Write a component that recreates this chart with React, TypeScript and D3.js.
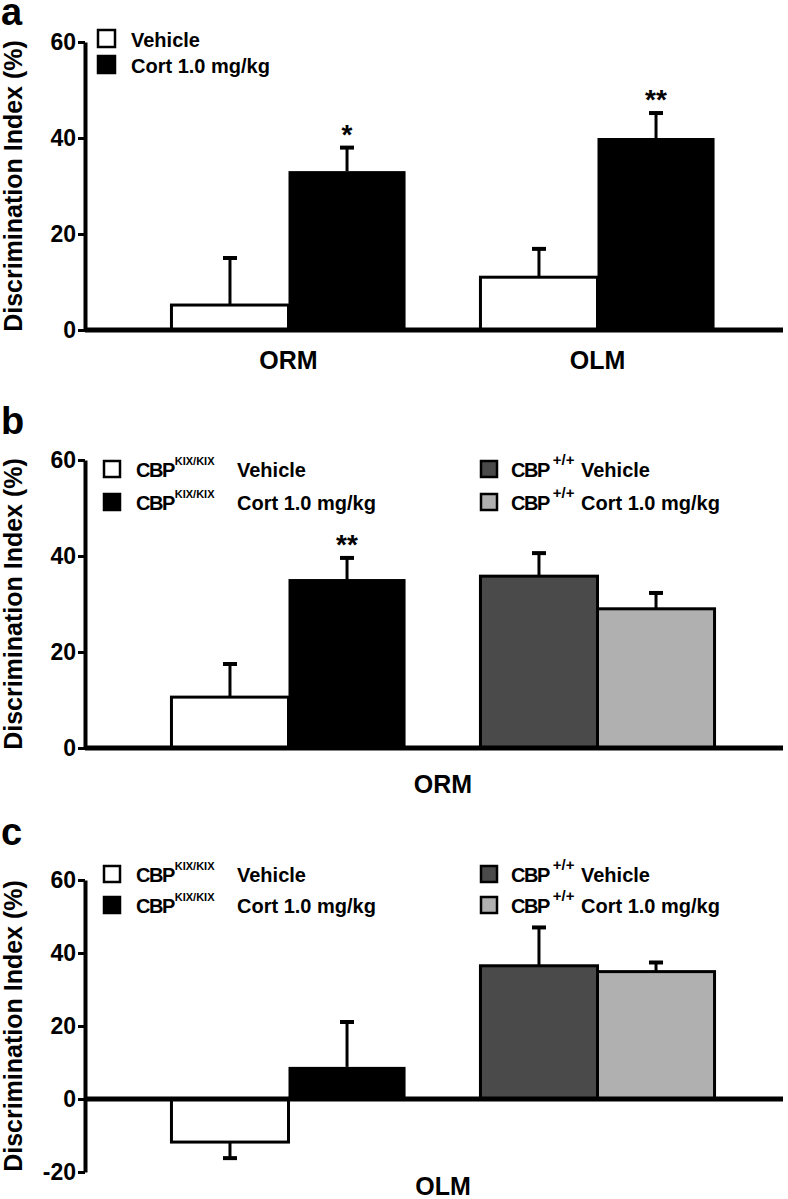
import React, { useRef, useEffect } from "react";
import * as d3 from "d3";

const FONT = "'Liberation Sans', Arial, Helvetica, sans-serif";

// panel a: ORM / OLM, vehicle vs cort
const aCategories = ["ORM", "OLM"];
const aSeries = ["Vehicle", "Cort 1.0 mg/kg"];
const aMeans = [
  [5.2, 33.1],
  [11.0, 40.0],
];
const aSems = [
  [9.8, 4.9],
  [5.9, 5.2],
];
const aStars = [
  ["", "*"],
  ["", "**"],
];

// panels b and c: genotype x treatment
const genotypes = ["KIX/KIX", "+/+"];
const treatments = ["Vehicle", "Cort 1.0 mg/kg"];

const bMeans = [
  [10.6, 35.2],
  [35.8, 29.0],
];
const bSems = [
  [6.9, 4.4],
  [4.8, 3.3],
];
const bStars = [
  ["", "**"],
  ["", ""],
];

const cMeans = [
  [-11.8, 8.8],
  [36.5, 34.9],
];
const cSems = [
  [4.4, 12.3],
  [10.5, 2.5],
];
const cStars = [
  ["", ""],
  ["", ""],
];

const ticksAB = [0, 20, 40, 60];
const ticksC = [-20, 0, 20, 40, 60];

const AXIS_X = 85;
const X_END = 783;

const App: React.FC = () => {
  const ref = useRef<SVGSVGElement | null>(null);

  useEffect(() => {
    const svg = d3.select(ref.current);
    svg.selectAll("*").remove();

    const drawPanel = (p: any) => {
      const g = svg.append("g");
      const y = d3.scaleLinear().domain(p.domain).range([p.bottom, p.top]);
      const x0 = d3.scaleBand<string>().domain(p.groups).range([134, 752]);
      const x1 = d3
        .scaleBand<number>()
        .domain([0, 1])
        .range([0, x0.bandwidth()])
        .paddingInner(0)
        .paddingOuter(0.32);
      const bw = x1.bandwidth();

      // panel letter
      g.append("text")
        .attr("x", 1)
        .attr("y", p.letterY)
        .attr("font-family", FONT)
        .attr("font-weight", "bold")
        .attr("font-size", 38)
        .text(p.letter);

      // y label
      g.append("text")
        .attr("transform", `translate(22, ${(p.top + p.bottom) / 2}) rotate(-90)`)
        .attr("text-anchor", "middle")
        .attr("font-family", FONT)
        .attr("font-weight", "bold")
        .attr("font-size", 25)
        .text("Discrimination Index (%)");

      // bars
      p.groups.forEach((grp: string, gi: number) => {
        [0, 1].forEach(si => {
          const v = p.means[gi][si];
          const bx = x0(grp)! + x1(si)!;
          const fill = p.fills[gi][si];
          g.append("rect")
            .attr("x", bx)
            .attr("y", Math.min(y(v), y(0)))
            .attr("width", bw)
            .attr("height", Math.abs(y(v) - y(0)))
            .attr("fill", fill)
            .attr("stroke", fill === "#000" ? "none" : "#000")
            .attr("stroke-width", 3);
        });
      });

      // error bars + stars
      p.groups.forEach((grp: string, gi: number) => {
        [0, 1].forEach(si => {
          const v = p.means[gi][si];
          const s = p.sems[gi][si];
          const end = v >= 0 ? v + s : v - s;
          const cx = x0(grp)! + x1(si)! + bw / 2;
          g.append("line")
            .attr("x1", cx)
            .attr("x2", cx)
            .attr("y1", y(v))
            .attr("y2", y(end))
            .attr("stroke", "#000")
            .attr("stroke-width", 3);
          g.append("line")
            .attr("x1", cx - 7)
            .attr("x2", cx + 7)
            .attr("y1", y(end))
            .attr("y2", y(end))
            .attr("stroke", "#000")
            .attr("stroke-width", 4);
          const star = p.stars[gi][si];
          if (star) {
            g.append("text")
              .attr("x", cx)
              .attr("y", y(end) - 4)
              .attr("text-anchor", "middle")
              .attr("font-family", FONT)
              .attr("font-weight", "bold")
              .attr("font-size", 28)
              .text(star);
          }
        });
      });

      // x axis line at zero
      g.append("line")
        .attr("x1", AXIS_X)
        .attr("x2", X_END)
        .attr("y1", y(0))
        .attr("y2", y(0))
        .attr("stroke", "#000")
        .attr("stroke-width", 5);

      // y axis
      const ax = g
        .append("g")
        .attr("transform", `translate(${AXIS_X},0)`)
        .call(
          d3
            .axisLeft(y)
            .tickValues(p.ticks)
            .tickSize(7)
            .tickSizeOuter(0)
            .tickPadding(2)
            .tickFormat(d => String(d))
        );
      ax.attr("font-family", FONT).attr("font-size", 23).attr("font-weight", "bold");
      ax.select(".domain").attr("stroke-width", 4);
      ax.selectAll(".tick line").attr("stroke-width", 3);

      // category labels
      p.xLabels.forEach((lab: any) => {
        g.append("text")
          .attr("x", lab.x(x0, bw))
          .attr("y", p.bottom + p.labelDy)
          .attr("text-anchor", "middle")
          .attr("font-family", FONT)
          .attr("font-weight", "bold")
          .attr("font-size", 25)
          .text(lab.text);
      });

      p.legend(g);
    };

    const legendA = (g: any) => {
      const fills = ["#fff", "#000"];
      aSeries.forEach((name, i) => {
        const yy = 30 + i * 26;
        g.append("rect")
          .attr("x", 98)
          .attr("y", yy)
          .attr("width", 17)
          .attr("height", 17)
          .attr("fill", fills[i])
          .attr("stroke", "#000")
          .attr("stroke-width", 2.5);
        g.append("text")
          .attr("x", 131)
          .attr("y", yy + 17)
          .attr("font-family", FONT)
          .attr("font-weight", "bold")
          .attr("font-size", 20)
          .text(name);
      });
    };

    const legendBC = (rowY: number[]) => (g: any) => {
      const fills = [
        ["#fff", "#000"],
        ["#4a4a4a", "#b0b0b0"],
      ];
      const cols = [
        { sq: 104, cbp: 136, supDx: 1, supSize: 11, txt: 237 },
        { sq: 481, cbp: 511, supDx: 4, supSize: 15, txt: 581 },
      ];
      genotypes.forEach((gt, gi) => {
        const c = cols[gi];
        treatments.forEach((tr, ti) => {
          const yy = rowY[ti];
          g.append("rect")
            .attr("x", c.sq)
            .attr("y", yy)
            .attr("width", 16)
            .attr("height", 16)
            .attr("fill", fills[gi][ti])
            .attr("stroke", "#000")
            .attr("stroke-width", 2.5);
          const t = g
            .append("text")
            .attr("x", c.cbp)
            .attr("y", yy + 16)
            .attr("font-family", FONT)
            .attr("font-weight", "bold")
            .attr("font-size", 20);
          t.append("tspan").attr("letter-spacing", -1.5).text("CBP");
          t.append("tspan")
            .attr("dx", c.supDx)
            .attr("dy", -12)
            .attr("font-size", c.supSize)
            .text(gt);
          g.append("text")
            .attr("x", c.txt)
            .attr("y", yy + 16)
            .attr("font-family", FONT)
            .attr("font-weight", "bold")
            .attr("font-size", 20)
            .text(tr);
        });
      });
    };

    const mid = (x0: any) => (x0.range()[0] + x0.range()[1]) / 2;

    drawPanel({
      letter: "a",
      letterY: 25,
      domain: [0, 60],
      top: 42,
      bottom: 330,
      ticks: ticksAB,
      groups: aCategories,
      means: aMeans,
      sems: aSems,
      stars: aStars,
      fills: [
        ["#fff", "#000"],
        ["#fff", "#000"],
      ],
      labelDy: 39,
      xLabels: aCategories.map(c => ({ text: c, x: (x0: any) => x0(c) + x0.bandwidth() / 2 })),
      legend: legendA,
    });

    drawPanel({
      letter: "b",
      letterY: 434,
      domain: [0, 60],
      top: 460,
      bottom: 748,
      ticks: ticksAB,
      groups: genotypes,
      means: bMeans,
      sems: bSems,
      stars: bStars,
      fills: [
        ["#fff", "#000"],
        ["#4a4a4a", "#b0b0b0"],
      ],
      labelDy: 45,
      xLabels: [{ text: "ORM", x: mid }],
      legend: legendBC([461, 494]),
    });

    drawPanel({
      letter: "c",
      letterY: 845,
      domain: [-20, 60],
      top: 880,
      bottom: 1172,
      ticks: ticksC,
      groups: genotypes,
      means: cMeans,
      sems: cSems,
      stars: cStars,
      fills: [
        ["#fff", "#000"],
        ["#4a4a4a", "#b0b0b0"],
      ],
      labelDy: 23,
      xLabels: [{ text: "OLM", x: mid }],
      legend: legendBC([866, 897]),
    });
  }, []);

  return (
    <svg
      ref={ref}
      width={788}
      height={1199}
      style={{ position: "absolute", left: 0, top: 0, background: "#fff" }}
    />
  );
};

export default App;
